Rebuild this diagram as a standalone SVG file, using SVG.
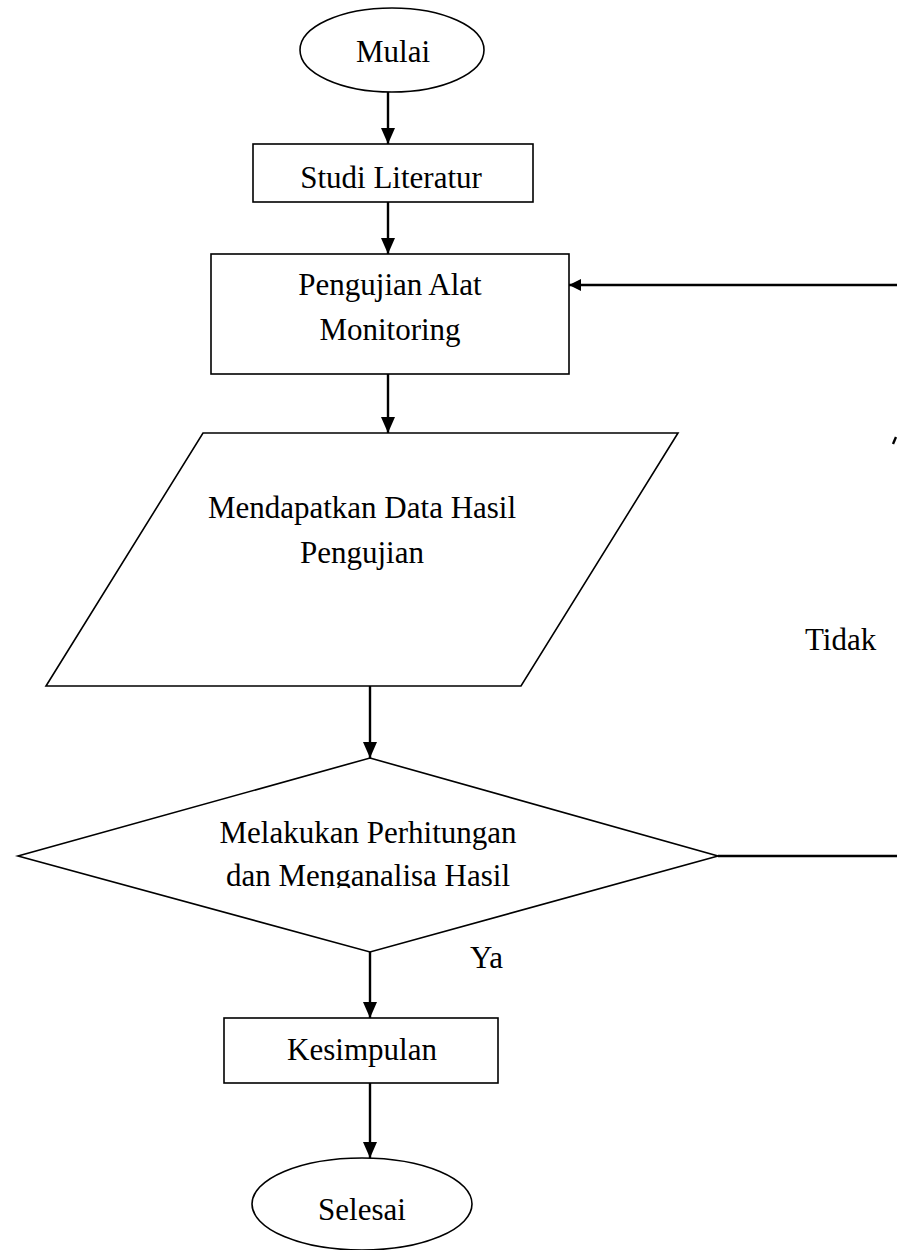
<svg xmlns="http://www.w3.org/2000/svg" width="897" height="1250" viewBox="0 0 897 1250">
<defs>
<style>
.shape{fill:#fff;stroke:#000;stroke-width:1.6}
.conn{fill:none;stroke:#000;stroke-width:2.4}
.t{font-family:"Liberation Serif","Times New Roman",serif;font-size:31px;fill:#000;text-anchor:middle}
.lbl{font-family:"Liberation Serif","Times New Roman",serif;font-size:31px;fill:#000}
</style>
<marker id="arr" viewBox="0 0 12 12" refX="12" refY="6" markerWidth="12" markerHeight="12" markerUnits="userSpaceOnUse" orient="auto">
<path d="M0,0 L12,6 L0,12 Z" fill="#000"/>
</marker>
<marker id="arrv" viewBox="0 0 16 14" refX="16" refY="7" markerWidth="16" markerHeight="14" markerUnits="userSpaceOnUse" orient="auto">
<path d="M0,0 L16,7 L0,14 Z" fill="#000"/>
</marker>
<clipPath id="clipDiamond"><rect x="0" y="780" width="897" height="108"/></clipPath>
</defs>
<rect width="897" height="1250" fill="#fff"/>

<g id="connectors">
<line class="conn" x1="388" y1="92" x2="388" y2="144" marker-end="url(#arrv)"/>
<line class="conn" x1="388" y1="202" x2="388" y2="254" marker-end="url(#arrv)"/>
<line class="conn" x1="388" y1="374" x2="388" y2="433" marker-end="url(#arrv)"/>
<line class="conn" x1="370" y1="686" x2="370" y2="758" marker-end="url(#arrv)"/>
<line class="conn" x1="370" y1="952" x2="370" y2="1018" marker-end="url(#arrv)"/>
<line class="conn" x1="370" y1="1083" x2="370" y2="1158" marker-end="url(#arrv)"/>
<line class="conn" x1="718" y1="856" x2="897" y2="856"/>
<line class="conn" x1="897" y1="285" x2="569" y2="285" marker-end="url(#arr)"/>
<line class="conn" x1="893" y1="444" x2="896" y2="437" stroke-width="1.2"/>
</g>

<g id="mulai">
<ellipse class="shape" cx="392" cy="50" rx="92" ry="42"/>
<text class="t" x="393" y="62">Mulai</text>
</g>

<g id="studi">
<rect class="shape" x="253" y="144" width="280" height="58"/>
<text class="t" x="391" y="188">Studi Literatur</text>
</g>

<g id="pengujian">
<rect class="shape" x="211" y="254" width="358" height="120"/>
<text class="t" x="390" y="295">Pengujian Alat</text>
<text class="t" x="390" y="340">Monitoring</text>
</g>

<g id="mendapatkan">
<polygon class="shape" points="203,433 678,433 521,686 46,686"/>
<text class="t" x="362" y="518">Mendapatkan Data Hasil</text>
<text class="t" x="362" y="563">Pengujian</text>
</g>

<g id="keputusan">
<polygon class="shape" points="370,758 718,856 370,952 18,856"/>
<text class="t" x="368" y="843">Melakukan Perhitungan</text>
<text class="t" x="368" y="886" clip-path="url(#clipDiamond)">dan Menganalisa Hasil</text>
</g>

<g id="kesimpulan">
<rect class="shape" x="224" y="1018" width="274" height="65"/>
<text class="t" x="362" y="1060">Kesimpulan</text>
</g>

<g id="selesai">
<ellipse class="shape" cx="362" cy="1204" rx="110" ry="46"/>
<text class="t" x="362" y="1220">Selesai</text>
</g>

<g id="labels">
<text class="lbl" x="805" y="650">Tidak</text>
<text class="lbl" x="470" y="968">Ya</text>
</g>
</svg>
